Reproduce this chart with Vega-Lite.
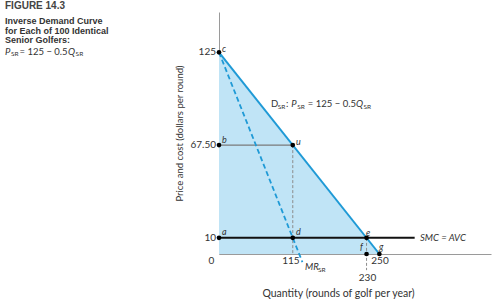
{
  "$schema": "https://vega.github.io/schema/vega-lite/v6.json",
  "width": 272,
  "height": 242,
  "autosize": {"type": "none"},
  "padding": {"left": 219, "top": 12, "right": 1, "bottom": 53},
  "background": "white",
  "config": {"view": {"stroke": null}, "font": "Lato"},
  "datasets": {
    "demand": [{"q": 0, "p": 125}, {"q": 250, "p": 0}],
    "mr": [{"q": 0, "p": 125}, {"q": 130, "p": -5}],
    "segs": [
      {"seg": "bu", "q": 0, "p": 67.5}, {"seg": "bu", "q": 115, "p": 67.5},
      {"seg": "ud", "q": 115, "p": 67.5}, {"seg": "ud", "q": 115, "p": 0},
      {"seg": "ef", "q": 230, "p": 10}, {"seg": "ef", "q": 230, "p": -10},
      {"seg": "smc", "q": 0, "p": 10}, {"seg": "smc", "q": 305, "p": 10}
    ],
    "points": [
      {"id": "c", "q": 0, "p": 125}, {"id": "b", "q": 0, "p": 67.5},
      {"id": "u", "q": 115, "p": 67.5}, {"id": "a", "q": 0, "p": 10},
      {"id": "d", "q": 115, "p": 10}, {"id": "e", "q": 230, "p": 10},
      {"id": "f", "q": 230, "p": 0}, {"id": "g", "q": 250, "p": 0}
    ],
    "labels": [
      {"t": "FIGURE 14.3", "q": -333.6, "p": 153.7, "k": "fig"},
      {"t": "Inverse Demand Curve", "q": -333.6, "p": 144.4, "k": "head"},
      {"t": "for Each of 100 Identical", "q": -333.6, "p": 138.5, "k": "head"},
      {"t": "Senior Golfers:", "q": -333.6, "p": 132.6, "k": "head"},
      {"t": "P", "q": -333.6, "p": 125.2, "k": "hit"},
      {"t": "SR", "q": -324.2, "p": 123.7, "k": "hsub"},
      {"t": "= 125 − 0.5", "q": -311.0, "p": 125.2, "k": "hnorm"},
      {"t": "Q", "q": -235.4, "p": 125.2, "k": "hit"},
      {"t": "SR", "q": -223.5, "p": 123.7, "k": "hsub"},
      {"t": "D", "q": 81.1, "p": 93.0, "k": "norm"},
      {"t": "SR", "q": 91.6, "p": 91.4, "k": "sub"},
      {"t": ":", "q": 104.5, "p": 93.0, "k": "norm"},
      {"t": "P", "q": 112.5, "p": 93.0, "k": "it"},
      {"t": "SR", "q": 122.0, "p": 91.4, "k": "sub"},
      {"t": "= 125 − 0.5", "q": 138.5, "p": 93.0, "k": "norm"},
      {"t": "Q", "q": 213.6, "p": 93.0, "k": "it"},
      {"t": "SR", "q": 225.3, "p": 91.4, "k": "sub"},
      {"t": "MR", "q": 134.1, "p": -7.9, "k": "it"},
      {"t": "SR", "q": 154.3, "p": -9.9, "k": "sub"},
      {"t": "SMC = AVC", "q": 313.3, "p": 10, "k": "it"},
      {"t": "c", "q": 4.7, "p": 127.1, "k": "pt"},
      {"t": "b", "q": 4.7, "p": 70.7, "k": "pt"},
      {"t": "u", "q": 120, "p": 69.4, "k": "pt"},
      {"t": "a", "q": 4.7, "p": 13.6, "k": "pt"},
      {"t": "d", "q": 120, "p": 13.6, "k": "pt"},
      {"t": "e", "q": 229.2, "p": 13.0, "k": "pt"},
      {"t": "f", "q": 219.8, "p": 4.3, "k": "pt"},
      {"t": "g", "q": 249.4, "p": 4.3, "k": "pt"},
      {"t": "125", "q": -4.7, "p": 125, "k": "tickR"},
      {"t": "67.50", "q": -4.7, "p": 67.5, "k": "tickR"},
      {"t": "10", "q": -4.7, "p": 10, "k": "tickR"},
      {"t": "0", "q": -11.7, "p": -4.6, "k": "tickC"},
      {"t": "115", "q": 112.2, "p": -4.6, "k": "tickC"},
      {"t": "230", "q": 231.5, "p": -14.7, "k": "tickC"},
      {"t": "250", "q": 251, "p": -4.3, "k": "tickC"}
    ]
  },
  "encoding": {
    "x": {
      "field": "q", "type": "quantitative",
      "scale": {"domain": [0, 424], "nice": false, "zero": false},
      "axis": {
        "domain": true, "domainColor": "#9a9a9a", "domainWidth": 1,
        "ticks": false, "labels": false, "grid": false,
        "title": "Quantity (rounds of golf per year)",
        "titleFont": "Lato", "titleFontSize": 10.5, "titleFontWeight": "normal", "titleColor": "#333333",
        "titleX": 119, "titleY": 39, "titleAlign": "center", "titleBaseline": "middle"
      }
    },
    "y": {
      "field": "p", "type": "quantitative",
      "scale": {"domain": [0, 150], "nice": false, "zero": false},
      "axis": {
        "domain": true, "domainColor": "#9a9a9a", "domainWidth": 1,
        "ticks": false, "labels": false, "grid": false,
        "title": "Price and cost (dollars per round)",
        "titleFont": "Lato", "titleFontSize": 9.5, "titleFontWeight": "normal", "titleColor": "#333333",
        "titleX": -40, "titleY": 121, "titleAngle": 270, "titleAlign": "center", "titleBaseline": "middle"
      }
    }
  },
  "layer": [
    {"data": {"name": "demand"}, "mark": {"type": "area", "color": "#c0e4f6", "clip": false}},
    {"data": {"name": "segs"}, "transform": [{"filter": "datum.seg === 'bu'"}], "mark": {"type": "line", "color": "#7a7a7a", "strokeWidth": 1.2, "clip": false}},
    {"data": {"name": "segs"}, "transform": [{"filter": "datum.seg === 'ud' || datum.seg === 'ef'"}], "mark": {"type": "line", "color": "#8c8c8c", "strokeWidth": 1, "strokeDash": [3, 2], "clip": false}, "encoding": {"detail": {"field": "seg"}}},
    {"data": {"name": "mr"}, "mark": {"type": "line", "color": "#1f9ad6", "strokeWidth": 1.8, "strokeDash": [5, 3], "clip": false}},
    {"data": {"name": "demand"}, "mark": {"type": "line", "color": "#1f9ad6", "strokeWidth": 2, "clip": false}},
    {"data": {"name": "segs"}, "transform": [{"filter": "datum.seg === 'smc'"}], "mark": {"type": "line", "color": "#111111", "strokeWidth": 2, "clip": false}},
    {"data": {"name": "points"}, "mark": {"type": "circle", "color": "#000000", "opacity": 1, "size": 22, "clip": false}},
    {"data": {"name": "labels"}, "transform": [{"filter": "datum.k === 'fig'"}], "mark": {"type": "text", "font": "Liberation Sans", "fontWeight": "bold", "fontSize": 10, "align": "left", "baseline": "middle", "color": "#444444", "clip": false}, "encoding": {"text": {"field": "t"}}},
    {"data": {"name": "labels"}, "transform": [{"filter": "datum.k === 'head'"}], "mark": {"type": "text", "font": "Liberation Sans", "fontWeight": "bold", "fontSize": 9, "align": "left", "baseline": "middle", "color": "#333333", "clip": false}, "encoding": {"text": {"field": "t"}}},
    {"data": {"name": "labels"}, "transform": [{"filter": "datum.k === 'hnorm'"}], "mark": {"type": "text", "fontSize": 9.5, "align": "left", "baseline": "middle", "color": "#333333", "clip": false}, "encoding": {"text": {"field": "t"}}},
    {"data": {"name": "labels"}, "transform": [{"filter": "datum.k === 'hit'"}], "mark": {"type": "text", "fontSize": 9.5, "fontStyle": "italic", "align": "left", "baseline": "middle", "color": "#333333", "clip": false}, "encoding": {"text": {"field": "t"}}},
    {"data": {"name": "labels"}, "transform": [{"filter": "datum.k === 'hsub'"}], "mark": {"type": "text", "fontSize": 6.5, "align": "left", "baseline": "middle", "color": "#333333", "clip": false}, "encoding": {"text": {"field": "t"}}},
    {"data": {"name": "labels"}, "transform": [{"filter": "datum.k === 'norm'"}], "mark": {"type": "text", "fontSize": 9.5, "align": "left", "baseline": "middle", "color": "#333333", "clip": false}, "encoding": {"text": {"field": "t"}}},
    {"data": {"name": "labels"}, "transform": [{"filter": "datum.k === 'it'"}], "mark": {"type": "text", "fontSize": 9.5, "fontStyle": "italic", "align": "left", "baseline": "middle", "color": "#333333", "clip": false}, "encoding": {"text": {"field": "t"}}},
    {"data": {"name": "labels"}, "transform": [{"filter": "datum.k === 'sub'"}], "mark": {"type": "text", "fontSize": 6.5, "align": "left", "baseline": "middle", "color": "#333333", "clip": false}, "encoding": {"text": {"field": "t"}}},
    {"data": {"name": "labels"}, "transform": [{"filter": "datum.k === 'pt'"}], "mark": {"type": "text", "fontSize": 9, "fontStyle": "italic", "align": "left", "baseline": "middle", "color": "#333333", "clip": false}, "encoding": {"text": {"field": "t"}}},
    {"data": {"name": "labels"}, "transform": [{"filter": "datum.k === 'tickR'"}], "mark": {"type": "text", "fontSize": 10, "align": "right", "baseline": "middle", "color": "#333333", "clip": false}, "encoding": {"text": {"field": "t"}}},
    {"data": {"name": "labels"}, "transform": [{"filter": "datum.k === 'tickC'"}], "mark": {"type": "text", "fontSize": 10, "align": "center", "baseline": "middle", "color": "#333333", "clip": false}, "encoding": {"text": {"field": "t"}}}
  ]
}
